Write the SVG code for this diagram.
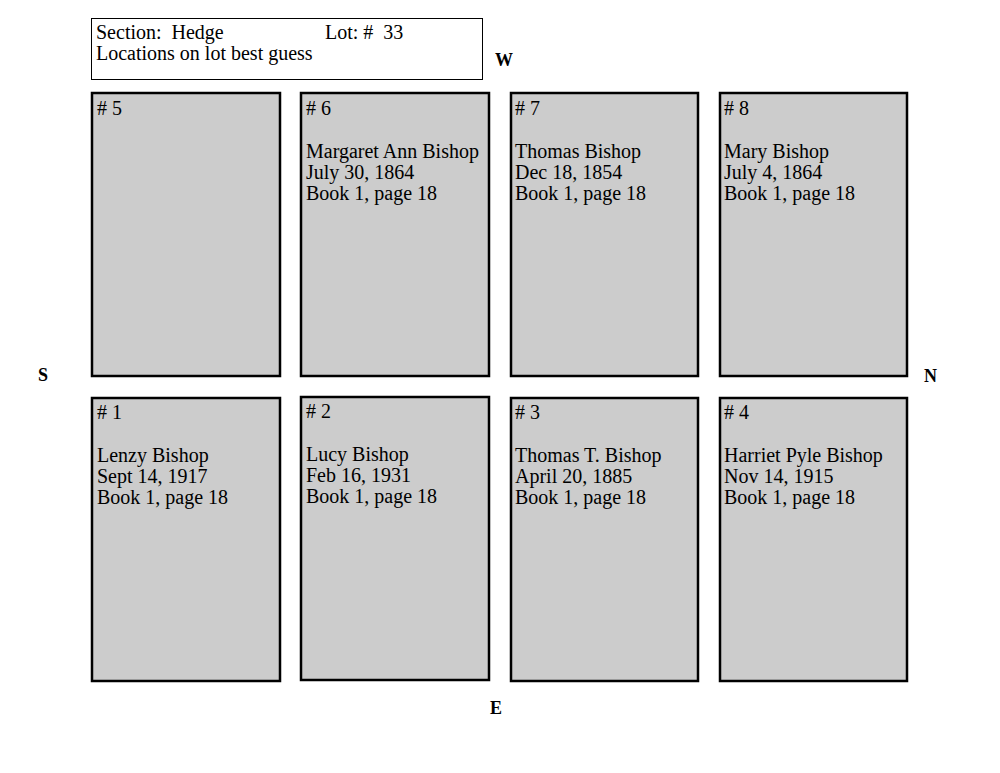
<svg xmlns="http://www.w3.org/2000/svg" width="1000" height="773" viewBox="0 0 1000 773">
<style>
.plot{fill:#cccccc;stroke:#000;stroke-width:2.5}
.t{font-family:"Liberation Serif","Times New Roman",serif;font-size:20px;fill:#000;white-space:pre}
.c{font-family:"Liberation Serif","Times New Roman",serif;font-size:18px;font-weight:bold;fill:#000}
</style>
<rect width="1000" height="773" fill="#fff"/>
<g id="header">
<rect x="91.5" y="18.5" width="391" height="61" fill="#fff" stroke="#000" stroke-width="1"/>
<text class="t" x="96" y="39" xml:space="preserve">Section:  Hedge</text>
<text class="t" x="325" y="39" xml:space="preserve">Lot: #  33</text>
<text class="t" x="96" y="60">Locations on lot best guess</text>
</g>
<g id="compass">
<text class="c" x="495" y="66">W</text>
<text class="c" x="38" y="381">S</text>
<text class="c" x="924" y="382">N</text>
<text class="c" x="490" y="714">E</text>
</g>
<g id="connectors"></g>
<g id="plot5">
<rect class="plot" x="92" y="93" width="188" height="283"/>
<text class="t" x="97" y="115"># 5</text>
</g>
<g id="plot6">
<rect class="plot" x="301" y="93" width="188" height="283"/>
<text class="t" x="306" y="115"># 6</text>
<text class="t" x="306" y="158">Margaret Ann Bishop</text>
<text class="t" x="306" y="179">July 30, 1864</text>
<text class="t" x="306" y="200">Book 1, page 18</text>
</g>
<g id="plot7">
<rect class="plot" x="511" y="93" width="187" height="283"/>
<text class="t" x="515" y="115"># 7</text>
<text class="t" x="515" y="158">Thomas Bishop</text>
<text class="t" x="515" y="179">Dec 18, 1854</text>
<text class="t" x="515" y="200">Book 1, page 18</text>
</g>
<g id="plot8">
<rect class="plot" x="720" y="93" width="187" height="283"/>
<text class="t" x="724" y="115"># 8</text>
<text class="t" x="724" y="158">Mary Bishop</text>
<text class="t" x="724" y="179">July 4, 1864</text>
<text class="t" x="724" y="200">Book 1, page 18</text>
</g>
<g id="plot1">
<rect class="plot" x="92" y="398" width="188" height="283"/>
<text class="t" x="97" y="419"># 1</text>
<text class="t" x="97" y="462">Lenzy Bishop</text>
<text class="t" x="97" y="483">Sept 14, 1917</text>
<text class="t" x="97" y="504">Book 1, page 18</text>
</g>
<g id="plot2">
<rect class="plot" x="301" y="397" width="188" height="283"/>
<text class="t" x="306" y="418"># 2</text>
<text class="t" x="306" y="461">Lucy Bishop</text>
<text class="t" x="306" y="482">Feb 16, 1931</text>
<text class="t" x="306" y="503">Book 1, page 18</text>
</g>
<g id="plot3">
<rect class="plot" x="511" y="398" width="187" height="283"/>
<text class="t" x="515" y="419"># 3</text>
<text class="t" x="515" y="462">Thomas T. Bishop</text>
<text class="t" x="515" y="483">April 20, 1885</text>
<text class="t" x="515" y="504">Book 1, page 18</text>
</g>
<g id="plot4">
<rect class="plot" x="720" y="398" width="187" height="283"/>
<text class="t" x="724" y="419"># 4</text>
<text class="t" x="724" y="462">Harriet Pyle Bishop</text>
<text class="t" x="724" y="483">Nov 14, 1915</text>
<text class="t" x="724" y="504">Book 1, page 18</text>
</g>
</svg>
